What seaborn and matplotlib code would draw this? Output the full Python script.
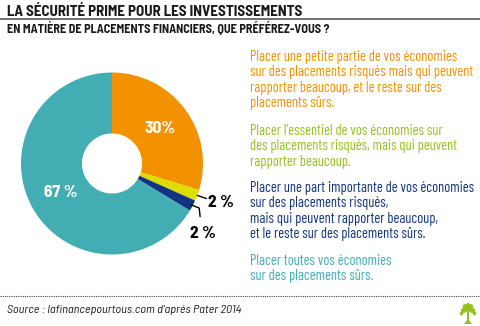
import numpy as np
import matplotlib
matplotlib.use("Agg")
import matplotlib.pyplot as plt
import matplotlib.patches as mpatches
import seaborn as sns

sns.set_theme(style="white")
plt.rcParams['font.family'] = ['Barlow Semi Condensed', 'DejaVu Sans']

# ---- data ----
categories = [
    "Placer une petite partie de vos économies\nsur des placements risqués mais qui peuvent\nrapporter beaucoup, et le reste sur des\nplacements sûrs.",
    "Placer l\u2019essentiel de vos économies sur\ndes placements risqués, mais qui peuvent\nrapporter beaucoup.",
    "Placer une part importante de vos économies\nsur des placements risqués,\nmais qui peuvent rapporter beaucoup,\net le reste sur des placements sûrs.",
    "Placer toutes vos économies\nsur des placements sûrs.",
]
values = [30, 2, 2, 67]
value_labels = ["30%", "2 %", "2 %", "67 %"]
colors = ["#F39200", "#DEDC00", "#133480", "#43ADB4"]
text_colors = ["#F39200", "#95C11F", "#133480", "#43ADB4"]

W, H = 480, 326
fig = plt.figure(figsize=(W / 100, H / 100), dpi=100)
fig.patch.set_facecolor("white")

def fx(x):
    return x / W

def fy(y):
    return 1 - y / H

# ---- pie ----
cx, cy, r = 112, 163.5, 91
ax = fig.add_axes([fx(cx - r), fy(cy + r), 2 * r / W, 2 * r / H])
wedges, _ = ax.pie(values, colors=colors, startangle=90, counterclock=False,
                   radius=1, wedgeprops=dict(width=0.67, linewidth=0))
ax.set_xlim(-1, 1)
ax.set_ylim(-1, 1)
ax.set_aspect("auto")
ax.axis("off")

for i, w in enumerate(wedges):
    mid = np.deg2rad((w.theta1 + w.theta2) / 2)
    c, s = np.cos(mid), np.sin(mid)
    if values[i] > 10:
        ax.text(0.65 * c, 0.65 * s, value_labels[i], color="white",
                fontsize=12.5, fontweight="bold", ha="center", va="center")

# small slices with leader lines
w1 = wedges[1]
m1 = np.deg2rad((w1.theta1 + w1.theta2) / 2)
p0 = (1.0 * np.cos(m1), 1.0 * np.sin(m1))
ax.plot([p0[0], p0[0] + 0.10], [p0[1], p0[1] - 0.035], color="black", lw=1, clip_on=False)
ax.text(p0[0] + 0.12, p0[1] - 0.08, value_labels[1], fontsize=12.5, fontweight="bold",
        ha="left", va="center", color="black", clip_on=False)

w2 = wedges[2]
m2 = np.deg2rad((w2.theta1 + w2.theta2) / 2)
q0 = (0.98 * np.cos(m2), 0.98 * np.sin(m2))
ax.plot([q0[0], q0[0] + 0.09, q0[0] + 0.10], [q0[1], q0[1] - 0.035, q0[1] - 0.13],
        color="black", lw=1, clip_on=False)
ax.text(q0[0] + 0.13, q0[1] - 0.31, value_labels[2], fontsize=12.5, fontweight="bold",
        ha="center", va="center", color="black", clip_on=False)

# ---- titles ----
fig.text(fx(7), fy(12), "LA SÉCURITÉ PRIME POUR LES INVESTISSEMENTS", fontsize=10.8,
         fontweight="bold", color="#1a1a1a", ha="left", va="center")
fig.add_artist(plt.Line2D([0, 1], [fy(18.5), fy(18.5)], color="#555555", lw=1.2))
fig.text(fx(7), fy(27), "EN MATIÈRE DE PLACEMENTS FINANCIERS, QUE PRÉFÉREZ-VOUS ?", fontsize=8.8,
         fontweight="bold", color="#1a1a1a", ha="left", va="center")

# ---- right-hand legend text ----
tops = [57, 131, 188, 261]
for txt, col, t in zip(categories, text_colors, tops):
    for k, line in enumerate(txt.split("\n")):
        fig.text(fx(250), fy(t + 15.3 * k), line, color=col, fontsize=10.4,
                 ha="left", va="center", family=["Barlow Condensed", "DejaVu Sans"])

# ---- footer ----
fig.add_artist(plt.Line2D([0, 1], [fy(296), fy(296)], color="#444444", lw=0.8,
                          linestyle=(0, (1, 1))))
fig.text(fx(7), fy(310), "Source : lafinancepourtous.com d\u2019aprés Pater 2014", fontsize=8.8,
         style="italic", color="#1a1a1a", ha="left", va="center")

# small tree logo (decorative)
ax_logo = fig.add_axes([fx(458), fy(326), 20 / W, 24 / H])
ax_logo.set_xlim(0, 20)
ax_logo.set_ylim(0, 24)
ax_logo.axis("off")
leaf = "#95C11F"
for (x, y, rr) in [(10, 17, 3.2), (5.5, 15.5, 2.6), (14.5, 15.5, 2.6), (7, 19.5, 2.3),
                   (13, 19.5, 2.3), (10, 21, 2.0), (3.5, 12.5, 1.8), (16.5, 12.5, 1.8)]:
    ax_logo.add_patch(mpatches.Circle((x, y), rr, color=leaf, lw=0))
ax_logo.add_patch(mpatches.Rectangle((8.8, 2), 2.4, 13, color=leaf, lw=0))
ax_logo.add_patch(mpatches.Polygon([[6, 2], [14, 2], [11, 6], [9, 6]], color=leaf, lw=0))

fig.savefig("out.png", dpi=100, facecolor="white")
